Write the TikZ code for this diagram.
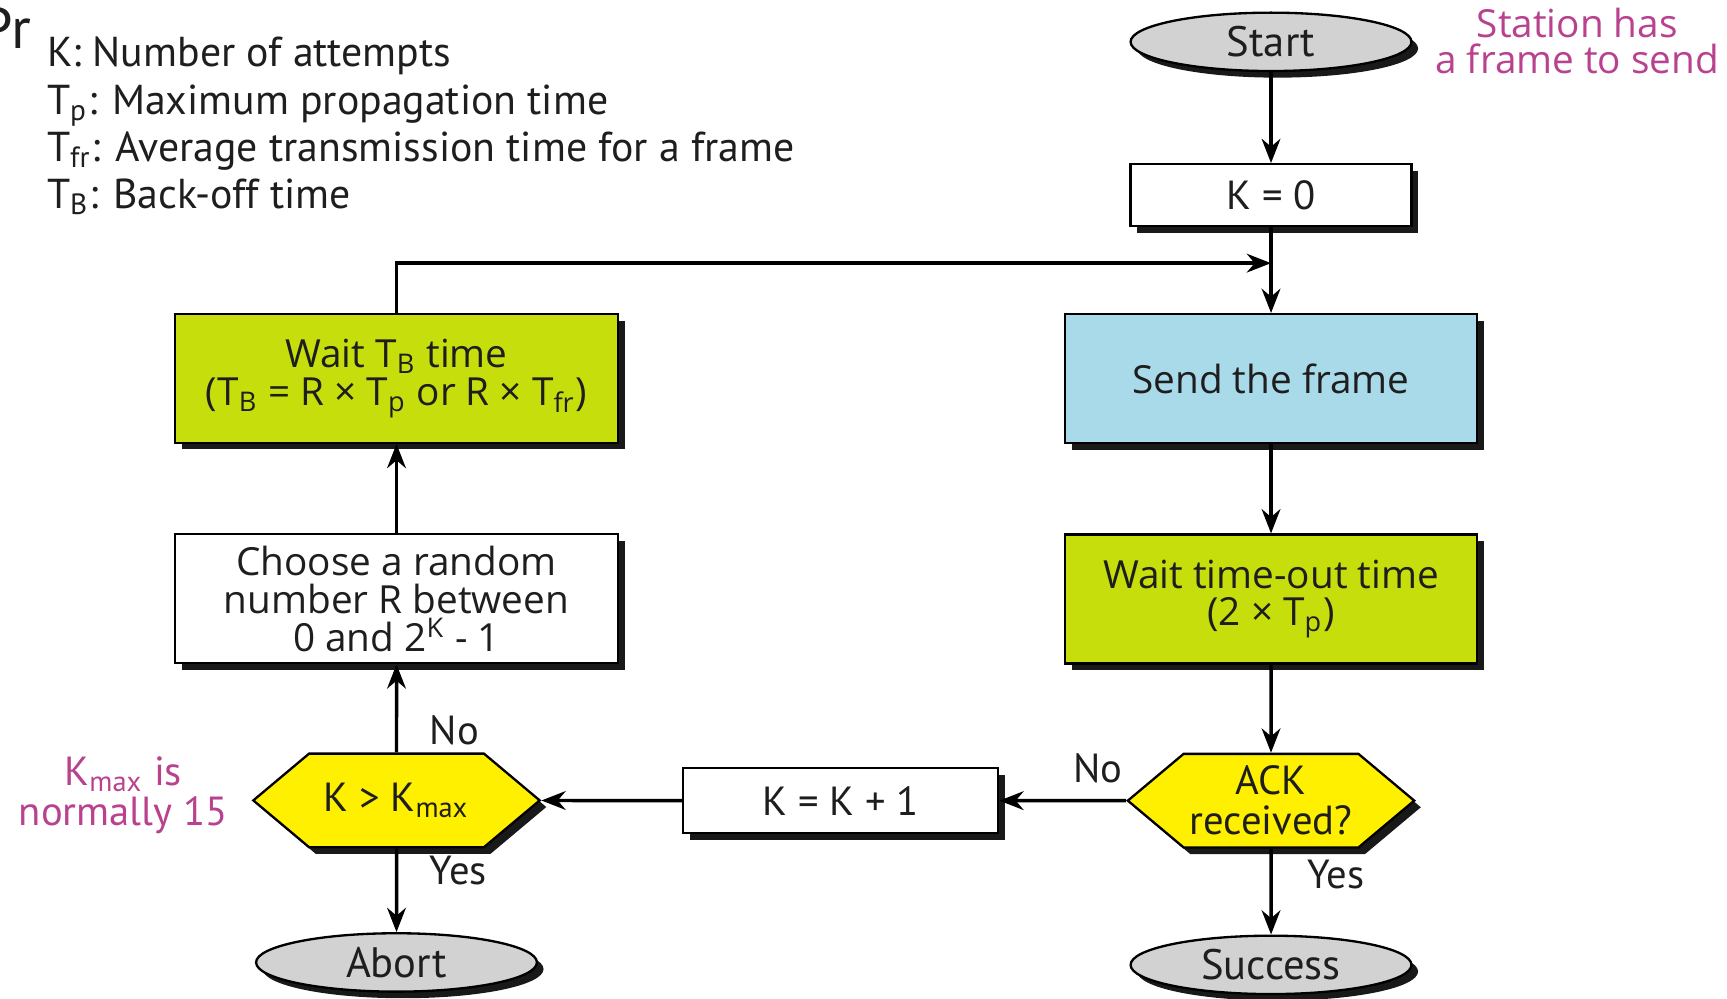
\documentclass[tikz,border=0pt]{standalone}
\usepackage{fontspec}
\setmainfont{Open Sans}
\newfontfamily\lblfont{PT Sans}
\usetikzlibrary{positioning,arrows.meta,calc,shapes.geometric,shapes.symbols,shadows}
\lineskiplimit=-6pt
\definecolor{CsmaGreen}{HTML}{C6DF0C}
\definecolor{CsmaBlue}{HTML}{A9DAEA}
\definecolor{CsmaYellow}{HTML}{FFF000}
\definecolor{CsmaGray}{HTML}{D2D2D2}
\definecolor{CsmaPink}{HTML}{B9428F}
\definecolor{CsmaInk}{HTML}{1E1E1E}
\tikzset{
  csmaLine/.style={-{Stealth[length=2.2mm, width=1.7mm]}, line width=0.9pt, draw=black},
  csmaShadow/.style={drop shadow={shadow xshift=0.6mm, shadow yshift=-0.6mm, fill=black, opacity=0.9}},
  box/.style={draw=black, line width=0.6pt, fill=white, align=center, inner sep=2pt,
    font=\fontsize{10}{9.8}\selectfont, text=CsmaInk, csmaShadow},
  boxGreen/.style={box, fill=CsmaGreen},
  boxBlue/.style={box, fill=CsmaBlue},
  term/.style={ellipse, draw=black, line width=0.6pt, fill=CsmaGray, csmaShadow,
    minimum width=2.55cm, minimum height=0.53cm, inner sep=0pt,
    font=\lblfont\fontsize{11}{12}\selectfont, text=CsmaInk},
  lbl/.style={font=\lblfont\fontsize{10.5}{12}\selectfont, text=CsmaInk},
  note/.style={font=\fontsize{10}{9.4}\selectfont, text=CsmaPink, align=center},
}

\begin{document}
\begin{tikzpicture}[
  dec/.style={signal, signal to=west and east, signal pointer angle=80, draw=black,
    line width=0.6pt, fill=CsmaYellow, csmaShadow, minimum width=2.6cm,
    minimum height=0.85cm, inner sep=0pt, align=center,
    font=\lblfont\fontsize{10.5}{10.3}\selectfont, text=CsmaInk},
]
  \useasboundingbox (0,0) rectangle (15.68,-9.07);

  % legend
  \node[lbl, anchor=base west, font=\lblfont\fontsize{15}{15}\selectfont] (title) at (-0.30,-0.44) {Pr};
  \node[lbl, anchor=north west, align=left, inner sep=0pt,
    font=\lblfont\fontsize{10.8}{12.2}\selectfont] (legend) at (0.42,-0.33)
    {K: Number of attempts\\
     T\textsubscript{p}: Maximum propagation time\\
     T\textsubscript{fr}: Average transmission time for a frame\\
     T\textsubscript{B}: Back-off time};

  % right column
  \node[term] (start) at (11.54,-0.38) {Start};
  \node[note] (station) at (14.32,-0.37) {Station has\\a frame to send};
  \node[box, below=0.825 of start, minimum width=2.55cm, minimum height=0.56cm,
    font=\lblfont\fontsize{10.5}{12}\selectfont] (k0) {K = 0};
  \node[boxBlue, below=0.78 of k0, minimum width=3.74cm, minimum height=1.17cm] (send) {Send the frame};
  \node[boxGreen, below=0.81 of send, minimum width=3.74cm, minimum height=1.17cm] (waitTo)
    {Wait time-out time\\(2 × T\textsubscript{p})};
  \node[dec, below=0.80 of waitTo] (ack) {ACK\\received?};
  \node[term, below=0.78 of ack] (success) {Success};

  % left column
  \node[boxGreen, minimum width=4.02cm, minimum height=1.17cm] (waitB) at (3.60,-3.435)
    {Wait T\textsubscript{B} time\\(T\textsubscript{B} = R × T\textsubscript{p} or R × T\textsubscript{fr})};
  \node[box, below=0.81 of waitB, minimum width=4.02cm, minimum height=1.17cm] (choose)
    {Choose a random\\number R between\\0 and 2\textsuperscript{K} - 1};
  \node[dec, below=0.80 of choose] (kmax) {K > K\textsubscript{max}};
  \node[term, below=0.76 of kmax] (abort) {Abort};
  \node[note, font=\lblfont\fontsize{10.5}{10.5}\selectfont] (kmaxNote) at (1.12,-7.22)
    {K\textsubscript{max} is\\normally 15};

  \node[box, left=1.15 of ack, minimum width=2.86cm, minimum height=0.59cm,
    font=\lblfont\fontsize{10.5}{12}\selectfont] (kInc) {K = K + 1};

  \coordinate (join) at ($(k0.south)!0.42!(send.north)$);

  \draw[csmaLine] (start) -- (k0);
  \draw[csmaLine] (k0) -- (send);
  \draw[csmaLine] (send) -- (waitTo);
  \draw[csmaLine] (waitTo) -- (ack);
  \draw[csmaLine] (ack) -- node[lbl, pos=0.3, right=0.2] (ackYes) {Yes} (success);
  \draw[csmaLine] (ack) -- node[lbl, pos=0.22, above=0.03] (ackNo) {No} (kInc);
  \draw[csmaLine] (kInc) -- (kmax);
  \draw[csmaLine] (kmax) -- node[lbl, pos=0.25, right=0.17] (kmaxNo) {No} (choose);
  \draw[csmaLine] (kmax) -- node[lbl, pos=0.27, right=0.17] (kmaxYes) {Yes} (abort);
  \draw[csmaLine] (choose) -- (waitB);
  \draw[csmaLine] (waitB.north) |- (join);

\end{tikzpicture}
\end{document}
